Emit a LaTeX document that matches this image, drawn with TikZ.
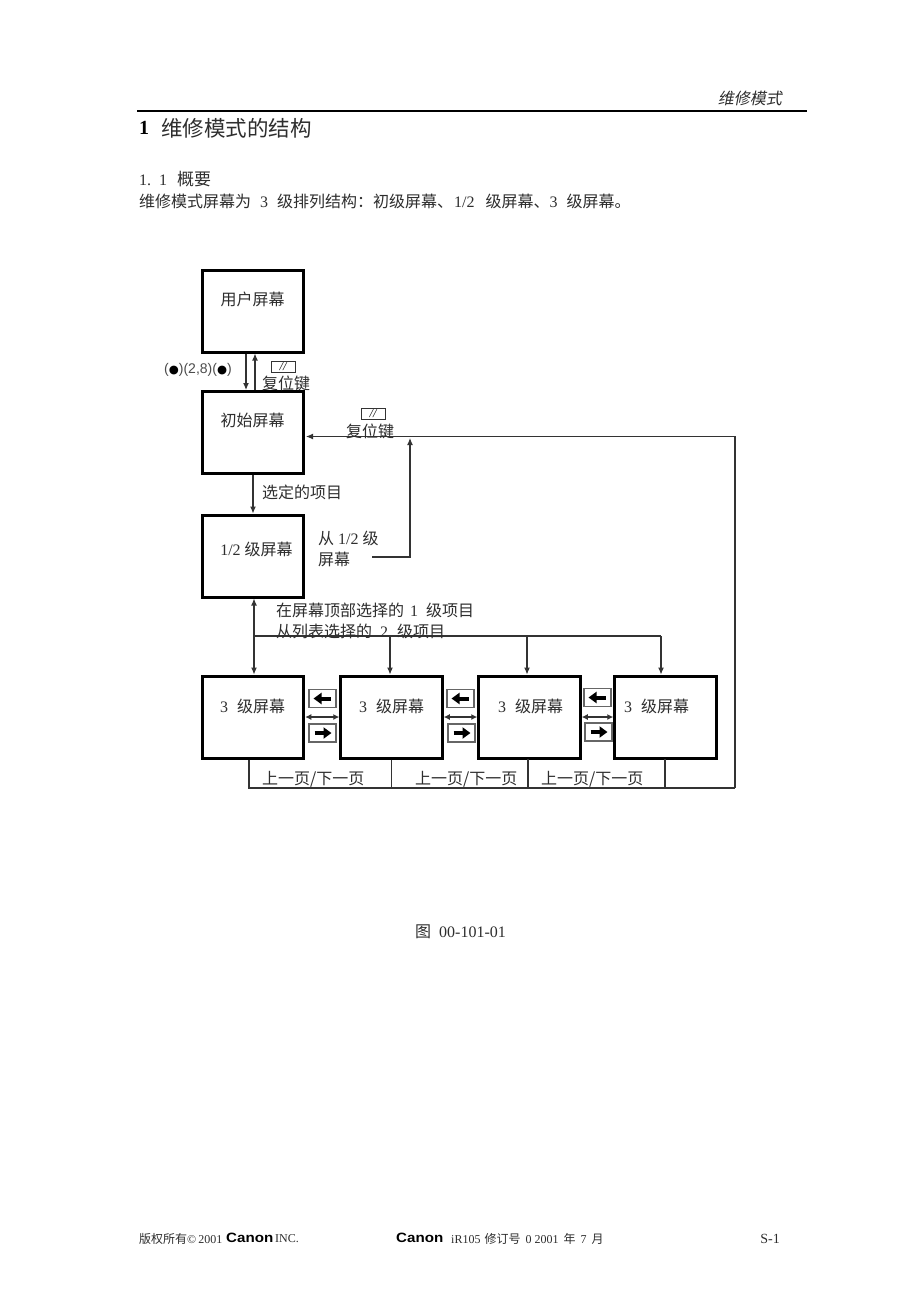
\documentclass[tikz,border=0pt]{standalone}
\usepackage{fontspec}
\setmainfont{Liberation Serif}
\newfontfamily\cjk{Noto Sans CJK SC}
\newfontfamily\cjkit[FakeSlant=0.2]{Noto Sans CJK SC}
\newfontfamily\djv{DejaVu Sans}
\newfontfamily\hv{Liberation Sans}
\newfontfamily\logofont[FakeStretch=1.12]{Liberation Sans Bold}
\usetikzlibrary{arrows.meta,calc}
\newcommand{\zh}[1]{{\cjk #1}}
\definecolor{ink}{gray}{0.18}
\tikzset{
 x=1pt,y=-1pt,
 screenbox/.style={draw=black,line width=3pt,minimum width=101.5pt,minimum height=82pt,inner sep=0pt},
 txt/.style={anchor=west,inner sep=0pt,text=ink,font=\fontsize{16}{18}\selectfont},
 boxtxt/.style={anchor=center,inner sep=0pt,text=ink,font=\fontsize{16}{18}\selectfont},
 foot/.style={anchor=west,inner sep=0pt,text=ink,font=\fontsize{12}{14}\selectfont},
 logo/.style={anchor=west,inner sep=0pt,text=black,font=\logofont\fontsize{13.5}{15}\selectfont},
 conn/.style={draw=black!80,line width=1.1pt},
 tip/.style={-{Latex[length=7pt,width=6pt]}},
 both/.style={{Latex[length=6pt,width=6pt]}-{Latex[length=6pt,width=6pt]}},
 keycap/.style={draw=black!80,line width=1.2pt,fill=white,minimum width=24pt,minimum height=11pt,inner sep=0pt},
 pagebtn/.style={draw=black!60,line width=1.4pt,fill=white,minimum width=27pt,minimum height=18pt,inner sep=0pt},
 lefta/.style={-{Triangle[length=8pt,width=11pt]},line width=4pt,black},
}
\begin{document}
\begin{tikzpicture}
\useasboundingbox (0,0) rectangle (920,1302);
\fill[white] (0,0) rectangle (920,1302);
% header
\node[anchor=east,inner sep=0pt,text=ink,font=\fontsize{16}{18}\selectfont] (hdr) at (782,98) {{\cjkit 维修模式}};
\coordinate (ruleL) at (137,111); \coordinate (ruleR) at (807,111);
\draw[line width=2.6pt] (ruleL) -- (ruleR);
\node[txt,text=black,font=\bfseries\fontsize{20}{22}\selectfont] (h1a) at (139,128) {1};
\node[txt,font=\fontsize{21.5}{24}\selectfont] (h1b) at (161,128) {\zh{维修模式的结构}};
\node[txt,font=\fontsize{16}{18}\selectfont] (h2) at (139,179) {1.\hspace{8pt}1\hspace{10pt}{\fontsize{17}{18}\selectfont\zh{概要}}};
\node[txt] (body) at (139,201) {\zh{维修模式屏幕为}\hspace{9pt}3\hspace{9pt}\zh{级排列结构：初级屏幕、}\hspace{1pt}1/2\hspace{11pt}\zh{级屏幕、}3\hspace{9pt}\zh{级屏幕。}};
% screens
\node[screenbox] (user) at (253,311) {};
\node[screenbox] (init) at (253,432.5) {};
\node[screenbox] (half) at (253,556) {};
\node[screenbox] (s1) at (253,717) {};
\node[screenbox] (s2) at (391.5,717) {};
\node[screenbox] (s3) at (529.5,717) {};
\node[screenbox] (s4) at (665.5,717) {};
\node[boxtxt] (tuser) at (252.5,299.5) {\zh{用户屏幕}};
\node[boxtxt] (tinit) at (252.5,420.5) {\zh{初始屏幕}};
\node[boxtxt] (thalf) at (256.5,549.5) {1/2\hspace{4pt}\zh{级屏幕}};
\node[boxtxt] (ts1) at (252.5,706.5) {3\hspace{9pt}\zh{级屏幕}};
\node[boxtxt] (ts2) at (391.5,706.5) {3\hspace{9pt}\zh{级屏幕}};
\node[boxtxt] (ts3) at (530.5,706.5) {3\hspace{9pt}\zh{级屏幕}};
\node[boxtxt] (ts4) at (656.5,706.5) {3\hspace{9pt}\zh{级屏幕}};
% user <-> init
\draw[conn,tip] (user.south -| 246,0) -- (init.north -| 246,0);
\draw[conn,tip] (init.north -| 255,0) -- (user.south -| 255,0);
\node[anchor=west,inner sep=0pt,text=black!70,font=\hv\fontsize{14}{16}\selectfont] (combo) at (164,369.5) {({\djv\fontsize{11.5}{12}\selectfont\textcolor{black}{●}})(2,8)({\djv\fontsize{11.5}{12}\selectfont\textcolor{black}{●}})};
\node[keycap] (key1) at (283.5,367) {\fontsize{12}{12}\selectfont\textit{//}};
\node[txt] (reset1) at (262,383) {\zh{复位键}};
% init -> half
\draw[conn,tip] (init.south -| 253,0) -- (half.north -| 253,0);
\node[txt] (sel) at (262,492) {\zh{选定的项目}};
% half side text and return
\node[txt] (from1) at (318,538) {\zh{从}\hspace{4pt}1/2\hspace{4pt}\zh{级}};
\node[txt] (from2) at (318,559) {\zh{屏幕}};
\coordinate (retS) at (372,557);
\coordinate (retJ) at (410,557);
\coordinate (retE) at (410,438);
\draw[conn,tip] (retS) -- (retJ) -- (retE);
% return to init
\coordinate (outer) at (735,788);
\draw[conn,tip] (outer) -- (735,436.5) -- (306,436.5);
\node[keycap] (key2) at (373.5,414) {\fontsize{12}{12}\selectfont\textit{//}};
\node[txt] (reset2) at (346,431) {\zh{复位键}};
% half -> level 3
\coordinate (bus) at (254,636);
\draw[conn,{Latex[length=7pt,width=6pt]}-{Latex[length=7pt,width=6pt]}] (half.south -| bus) -- (s1.north -| bus);
\coordinate (busE) at (661,636);
\draw[conn] (bus) -- (busE);
\draw[conn,tip] (390,636) -- (s2.north -| 390,0);
\draw[conn,tip] (527,636) -- (s3.north -| 527,0);
\draw[conn,tip] (busE) -- (s4.north -| busE);
\node[txt] (top1) at (276,610) {\zh{在屏幕顶部选择的}\hspace{6pt}1\hspace{8pt}\zh{级项目}};
\node[txt] (top2) at (276,631) {\zh{从列表选择的}\hspace{8pt}2\hspace{9pt}\zh{级项目}};
% between level 3 screens
\draw[conn,both] (s1.east) -- (s2.west);
\draw[conn,both] (s2.east) -- (s3.west);
\draw[conn,both] (s3.east) -- (s4.west);
\node[pagebtn] (l1) at (322.5,698.5) {}; \node[pagebtn] (r1) at (322.5,733) {};
\node[pagebtn] (l2) at (460.5,698.5) {}; \node[pagebtn] (r2) at (461.5,733) {};
\node[pagebtn] (l3) at (597.5,697.5) {}; \node[pagebtn] (r3) at (598.5,732) {};
\foreach \n in {l1,l2,l3}{\draw[lefta] ($(\n.center)+(8,0)$) -- ($(\n.center)+(-9,0)$);}
\foreach \n in {r1,r2,r3}{\draw[lefta] ($(\n.center)+(-8,0)$) -- ($(\n.center)+(9,0)$);}
% bottom bus
\coordinate (b1) at (249,788);
\draw[conn] (s1.south -| b1) -- (b1) -- (outer);
\draw[conn] (s2.south) -- (s2.south |- b1);
\draw[conn] (528,759) -- (528,788);
\draw[conn] (665,759) -- (665,788);
\node[txt] (p1) at (262,779) {\zh{上一页/下一页}};
\node[txt] (p2) at (415,779) {\zh{上一页/下一页}};
\node[txt] (p3) at (541,779) {\zh{上一页/下一页}};
% caption
\node[txt] (cap) at (415,932) {\zh{图}\hspace{8pt}00-101-01};
% footer
\node[foot] (f1) at (139,1239) {\zh{版权所有}©\hspace{2pt}2001};
\node[logo] (f2) at (226,1238) {Canon};
\node[foot] (f3) at (275,1239) {INC.};
\node[logo] (f4) at (396,1238) {Canon};
\node[foot] (f5) at (451,1239) {iR105\hspace{4pt}\zh{修订号}\hspace{5pt}0 2001\hspace{5pt}\zh{年}\hspace{5pt}7\hspace{5pt}\zh{月}};
\node[anchor=east,inner sep=0pt,text=ink,font=\fontsize{14}{16}\selectfont] (f6) at (780,1239) {S-1};
\end{tikzpicture}
\end{document}
